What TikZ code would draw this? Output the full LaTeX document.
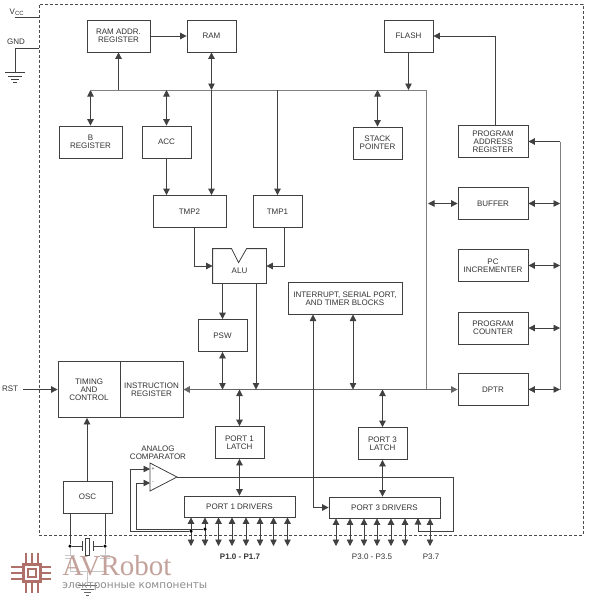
\documentclass[tikz,border=0pt]{standalone}
\usepackage{fontspec}
\setmainfont{Liberation Sans}
\usetikzlibrary{arrows.meta}
\definecolor{wmred}{HTML}{B0706A}
\definecolor{wmtext}{HTML}{C4A29C}
\begin{document}
\begin{tikzpicture}[
  x=1pt, y=-1pt,
  >={Triangle[length=6.5pt,width=6.5pt]},
  line width=0.8pt, draw=black!75, text=black!80,
  bnode/.style={draw, fill=white, inner sep=0pt, align=center, minimum width=49pt, minimum height=32pt,
    font=\fontsize{8}{8}\selectfont},
  wnode/.style={bnode, minimum width=70pt},
  txt/.style={inner sep=0pt, align=center, font=\fontsize{8}{8}\selectfont},
  bus/.style={line width=1pt, draw=black!50},
  dot/.style={circle, fill=black, draw=none, inner sep=0pt, minimum size=3.5pt},
  faint/.style={draw=black!22, line width=0.7pt}
]
  \useasboundingbox (0,0) rectangle (591,600);

  \node[draw=black!70, dashed, dash pattern=on 3pt off 2pt, minimum width=544pt, minimum height=531pt, inner sep=0pt] (chip) at (311,269.5) {};

  \node[bnode, minimum width=63pt] (ramaddr) at (118.5,36) {RAM ADDR.\\REGISTER};
  \node[bnode] (ram) at (211.5,36) {RAM};
  \node[bnode] (flash) at (408.5,36) {FLASH};
  \node[bnode, minimum width=63pt] (breg) at (90.5,142) {B\\REGISTER};
  \node[bnode] (acc) at (166.5,142) {ACC};
  \node[bnode] (stack) at (377.5,143) {STACK\\POINTER};
  \node[wnode] (pareg) at (493,141.5) {PROGRAM\\ADDRESS\\REGISTER};
  \node[bnode, minimum width=73pt] (tmp2) at (189.5,211.5) {TMP2};
  \node[bnode] (tmp1) at (277.5,211.5) {TMP1};
  \node[inner sep=0pt, minimum width=53pt, minimum height=34pt] (alu) at (239.5,266) {};
  \node[txt] (alutxt) at (239.5,271) {ALU};
  \node[bnode, minimum width=114pt] (intr) at (345,298.5) {INTERRUPT, SERIAL PORT,\\AND TIMER BLOCKS};
  \node[bnode] (psw) at (222.5,335.5) {PSW};
  \node[bnode, minimum width=62pt, minimum height=56pt] (timing) at (89,389.5) {TIMING\\AND\\CONTROL};
  \node[bnode, minimum width=63pt, minimum height=56pt] (instr) at (151.5,389.5) {INSTRUCTION\\REGISTER};
  \node[wnode] (buffer) at (493,203.5) {BUFFER};
  \node[wnode] (pcinc) at (493,265.5) {PC\\INCREMENTER};
  \node[wnode] (pcount) at (493,328) {PROGRAM\\COUNTER};
  \node[wnode] (dptr) at (493,389.5) {DPTR};
  \node[bnode] (p1lat) at (239.5,442.5) {PORT 1\\LATCH};
  \node[bnode] (p3lat) at (382.5,443.5) {PORT 3\\LATCH};
  \node[bnode, minimum width=111pt, minimum height=21pt] (p1drv) at (239.5,506.5) {PORT 1 DRIVERS};
  \node[bnode, minimum width=111pt, minimum height=21pt] (p3drv) at (384.5,507.5) {PORT 3 DRIVERS};
  \node[bnode] (osc) at (87.5,497) {OSC};

  \node[txt] (vcc) at (17,12) {V\textsubscript{CC}};
  \node[txt] (gnd) at (16,42) {GND};
  \node[txt] (rst) at (10,389) {RST};
  \node[txt] (comptxt) at (158,453) {ANALOG\\COMPARATOR};
  \node[txt, font=\fontsize{8}{8}\bfseries] (p1txt) at (240,557) {P1.0 - P1.7};
  \node[txt] (p3txt) at (372,557) {P3.0 - P3.5};
  \node[txt] (p37txt) at (431,557) {P3.7};

  % ALU outline
  \draw (alu.north west) -- ++(19,0) -- ++(7,14) -- ++(8,-14) -- (alu.north east) -- (alu.south east) -- (alu.south west) -- cycle;

  % buses
  \coordinate (busl) at (91,90);
  \coordinate (busr) at (426,90);
  \coordinate (busb) at (426,389.5);
  \coordinate (rbust) at (560,141.5);
  \coordinate (rbusb) at (560,389.5);
  \draw[bus] (busl) -- (busr) -- (busb);
  \draw[bus] (rbust) -- (rbusb);
  \draw[bus, <->, draw=black!60] (instr) -- (dptr);

  \draw[->] (ramaddr) -- (ram);
  \draw[->] (ramaddr |- busl) -- (ramaddr);
  \draw[<->] (ram) -- (ram |- busl);
  \draw[->] (ram |- busl) -- (ram |- tmp2.north);
  \draw[<->] (breg) -- (breg |- busl);
  \draw[<->] (acc) -- (acc |- busl);
  \draw[->] (acc) -- (acc |- tmp2.north);
  \draw[->] (tmp1 |- busl) -- (tmp1);
  \draw[->] (flash) -- (flash |- busl);
  \draw[<->] (stack) -- (stack |- busl);

  \coordinate (pafl) at (495,126);
  \draw[->] (pafl) |- (flash);
  \draw[<-] (pareg) -- (rbust);
  \draw[<->] (buffer.west) -- (428,203.5);
  \draw[<->] (buffer) -- (buffer -| rbust);
  \draw[<->] (pcinc) -- (pcinc -| rbust);
  \draw[<->] (pcount) -- (pcount -| rbust);
  \draw[<->] (dptr) -- (dptr -| rbust);

  \coordinate (tmp2out) at (194,227.5);
  \coordinate (tmp1out) at (284,227.5);
  \coordinate (alubus) at (256,283);
  \draw[->] (tmp2out) |- (alu.west);
  \draw[->] (tmp1out) |- (alu.east);
  \draw[->] (psw |- alu.south) -- (psw);
  \draw[->] (alubus) -- (alubus |- busb);
  \draw[<->] (psw) -- (psw |- busb);

  \coordinate (intin) at (313,314.5);
  \coordinate (intbus) at (353,314.5);
  \draw[<->] (intin) |- (p3drv.west);
  \draw[<->] (intbus) -- (intbus |- busb);

  \draw[<->] (p1lat) -- (p1lat |- busb);
  \draw[<->] (p3lat) -- (p3lat |- busb);
  \draw[<->] (p1lat) -- (p1drv);
  \draw[<->] (p3lat) -- (p3lat |- p3drv.north);

  \coordinate (rstin) at (23,389.5);
  \coordinate (oscout) at (87,481);
  \draw[->] (rstin) -- (timing);
  \draw[->] (oscout) -- (oscout |- timing.south);

  % power pins
  \coordinate (vccl) at (15,17);
  \coordinate (gndl) at (15,48);
  \coordinate (gndb) at (15,72);
  \draw (vccl) -- (vccl -| chip.west);
  \draw (gndb) |- (gndl -| chip.west);
  \draw (5,72) -- (25,72) (8,76) -- (22,76) (11,79) -- (19,79) (13,82) -- (17,82);

  % comparator
  \coordinate (cmpp) at (150,469);
  \coordinate (cmpm) at (150,483);
  \coordinate (cmptip) at (177,477);
  \draw (150,463) -- (150,491) -- (cmptip) -- cycle;
  \node[txt] (plus) at (153,469) {\fontsize{5}{5}\selectfont +};
  \node[txt] (minus) at (153,483) {\fontsize{5}{5}\selectfont -};

  % port pins
  \foreach \i/\x in {1/191,2/205,3/218.5,4/232,5/246,6/260,7/273.5,8/287.5}
    \coordinate (p1pin\i) at (\x,546);
  \foreach \i/\x in {1/336,2/350,3/364,4/377,5/391,6/405,7/430}
    \coordinate (p3pin\i) at (\x,546);
  \foreach \i in {1,...,8}
    \draw[<->] (p1pin\i) -- (p1pin\i |- p1drv.south);
  \foreach \i in {1,...,7}
    \draw[<->] (p3pin\i) -- (p3pin\i |- p3drv.south);

  \coordinate (cmpr) at (453,531);
  \coordinate (p3cmp) at (418,518);
  \draw[->] (cmptip) -| (cmpr) -| (p3cmp);

  \node[dot] (dotp) at (191,531) {};
  \node[dot] (dotm) at (205,529) {};
  \coordinate (cmpl1) at (130,531);
  \coordinate (cmpl2) at (136,529);
  \draw[->] (dotp) -- (cmpl1) |- (cmpp);
  \draw[->] (dotm) -- (cmpl2) |- (cmpm);

  % crystal
  \node[dot] (xl) at (70,546) {};
  \node[dot] (xr) at (105,546) {};
  \draw (xl) -- (xl |- osc.south);
  \draw (xr) -- (xr |- osc.south);
  \draw (xl) -- (82,546) (xr) -- (93,546);
  \draw (82,541) -- (82,551) (93,541) -- (93,551);
  \draw (85.5,538) rectangle (89.5,555);

  \draw[faint] (xl) -- (70,555) (65,555) -- (75,555) (65,558) -- (75,558) (70,558) -- (70,571) -- (105,571) -- (105,558);
  \draw[faint] (xr) -- (105,555) (100,555) -- (110,555) (100,558) -- (110,558);
  \draw[faint] (87.5,571) -- (87.5,585);
  \draw[black!60, line width=0.7pt] (78,585) -- (97,585) (81,589) -- (94,589) (84,592) -- (91,592) (86,595) -- (89,595);

  % watermark
  \draw[wmred, line width=3pt] (23.5,564.5) rectangle (40.5,581.5);
  \draw[wmred, line width=2pt] (28,569) rectangle (36,577);
  \foreach \d in {-6,0,6} {
    \draw[wmred, line width=2.4pt] (32+\d,553) -- (32+\d,563);
    \draw[wmred, line width=2.4pt] (32+\d,583) -- (32+\d,593);
    \draw[wmred, line width=2.4pt] (11,573+\d) -- (22,573+\d);
    \draw[wmred, line width=2.4pt] (42,573+\d) -- (51,573+\d);
  }
  \node[inner sep=0pt, anchor=base west, text=wmtext, font=\fontsize{29}{29}\fontspec{Liberation Serif}] (wmname) at (62,575) {AVRobot};
  \node[inner sep=0pt, anchor=base west, text=black!45, font=\fontsize{10.5}{10.5}\fontspec{DejaVu Sans}] (wmsub) at (62,588) {электронные компоненты};
\end{tikzpicture}
\end{document}
